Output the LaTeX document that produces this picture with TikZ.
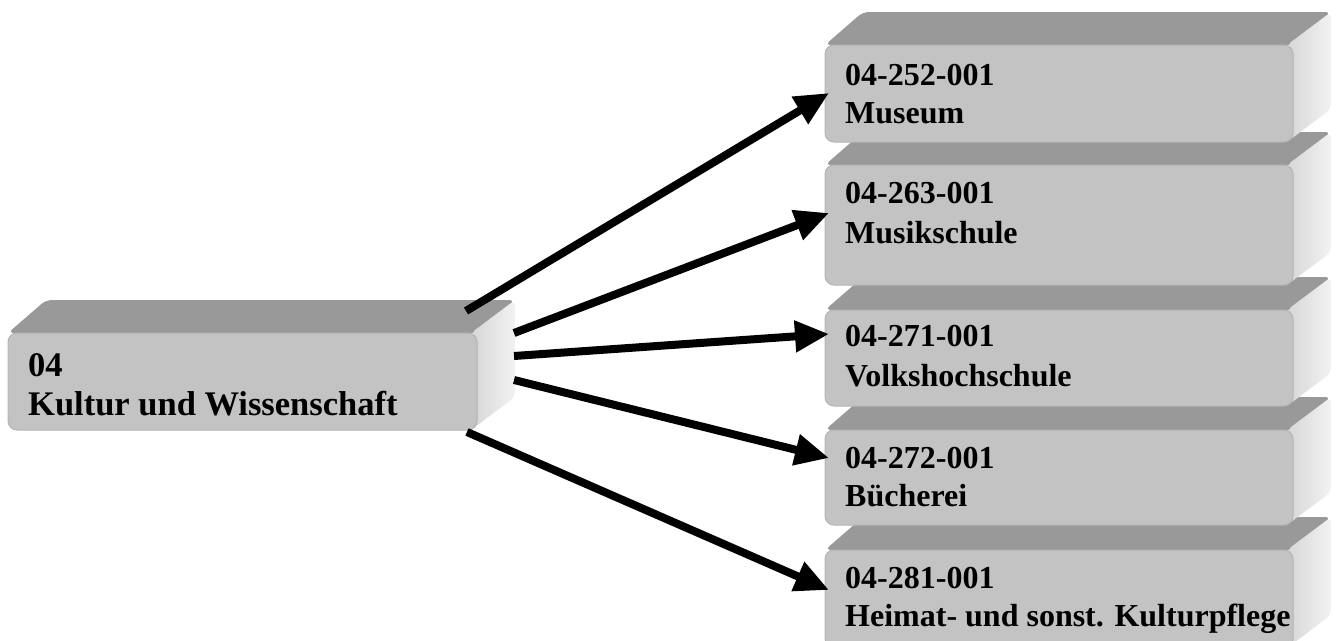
\documentclass[tikz,border=0pt]{standalone}
\usepackage{fontspec}
\setmainfont{Liberation Serif}
\usetikzlibrary{arrows.meta,calc}
\definecolor{topc}{HTML}{999999}
\definecolor{frontc}{HTML}{C3C3C3}
\definecolor{edgec}{HTML}{B4B4B4}
\definecolor{sidea}{HTML}{D6D6D6}
\definecolor{sideb}{HTML}{F2F2F2}
\tikzset{
  topface/.style={fill=topc, rounded corners=6pt},
  frontface/.style={draw=edgec, line width=1pt, fill=frontc, rounded corners=9pt, inner sep=0pt, outer sep=0pt},
  lbl/.style={font=\fontsize{32}{38}\selectfont\bfseries, inner sep=0pt, anchor=base west},
  biglbl/.style={font=\fontsize{34.5}{40}\selectfont\bfseries, inner sep=0pt, anchor=base west},
  conn/.style={line width=8pt, -{Triangle[length=34pt,width=30pt]}}
}
\def\boxlbl{lbl}
% #1 name, #2 x0, #3 top row, #4 x1, #5 bottom row, #6 line1, #7 line2, #8 baseline offset1, #9 offset2
\newcommand{\cubebox}[9]{%
  \fill[topface] (#2,#3) -- (#2+38,#3-33) -- (#4+38,#3-33) -- (#4,#3) -- cycle;
  \shade[left color=sidea, right color=sideb, rounded corners=6pt] (#4-6,#3) -- (#4+38,#3-33) -- (#4+38,#5-33) -- (#4-6,#5) -- cycle;
  \node[frontface, anchor=north west, minimum width={(#4-#2)*1pt}, minimum height={(#5-#3)*1pt}] (#1) at (#2,#3) {};
  \node[\boxlbl] (#1a) at (#2+20,#3+#8) {#6};
  \node[\boxlbl] (#1b) at (#2+20,#3+#9) {#7};
}
\begin{document}
\begin{tikzpicture}[x=1pt,y=-1pt]
\useasboundingbox (0,0) rectangle (1336,640);
\begin{scope}
\clip (0,0) rectangle (1336,640);
\cubebox{b5}{825}{550}{1293}{648}{04-281-001}{Heimat- und sonst. Kulturpflege}{38}{76}
\cubebox{b4}{825}{430}{1293}{525}{04-272-001}{B\"ucherei}{38}{76}
\cubebox{b3}{825}{310}{1293}{406}{04-271-001}{Volkshochschule}{36}{76}
\cubebox{b2}{825}{165}{1293}{285}{04-263-001}{Musikschule}{38}{78}
\cubebox{b1}{825}{45}{1293}{142}{04-252-001}{Museum}{40}{78}
\def\boxlbl{biglbl}
\cubebox{m}{8}{333}{477}{430}{04}{Kultur und Wissenschaft}{43}{82}
\end{scope}
% connector end points
\coordinate (s1) at (466,311);
\coordinate (s2) at (514,333);
\coordinate (s3) at (514,356);
\coordinate (s4) at (514,380);
\coordinate (s5) at (467,432);
\coordinate (t1) at (829,93);
\coordinate (t2) at (829,213);
\coordinate (t3) at (829,334);
\coordinate (t4) at (829,458);
\coordinate (t5) at (829,590);
\draw[conn] (s1) -- (t1);
\draw[conn] (s2) -- (t2);
\draw[conn] (s3) -- (t3);
\draw[conn] (s4) -- (t4);
\draw[conn] (s5) -- (t5);
\end{tikzpicture}
\end{document}
